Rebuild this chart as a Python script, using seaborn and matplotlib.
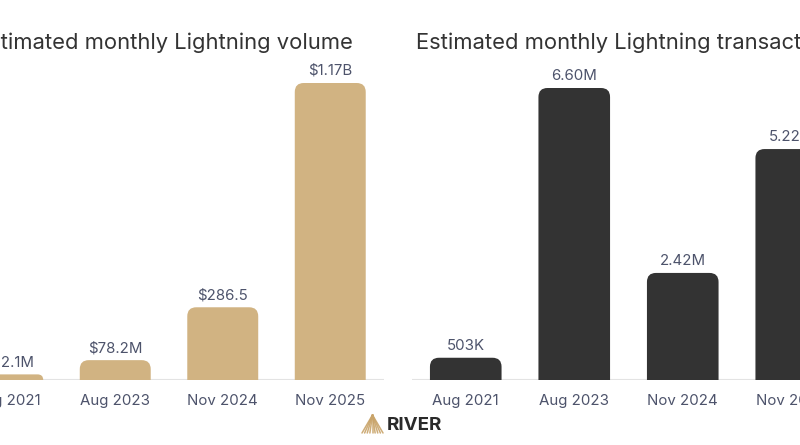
import matplotlib
matplotlib.use("Agg")
import matplotlib.pyplot as plt
from matplotlib.patches import FancyBboxPatch
import seaborn as sns
import pandas as pd

sns.set_theme(style="white")
plt.rcParams['font.family'] = ['Inter', 'DejaVu Sans']

# data
periods = ["Aug 2021", "Aug 2023", "Nov 2024", "Nov 2025"]
volume_busd = [0.0221, 0.0782, 0.2865, 1.17]
volume_labels = ["$22.1M", "$78.2M", "$286.5", "$1.17B"]
tx_millions = [0.503, 6.60, 2.42, 5.22]
tx_labels = ["503K", "6.60M", "2.42M", "5.22M"]

GOLD = "#d1b382"
DARK = "#333333"
LABEL = "#4d536b"

W, H = 800, 445
fig = plt.figure(figsize=(8, 4.45), dpi=100)

# axes deliberately spill past the figure edges (the reference is a crop)
ax1 = fig.add_axes([-46 / W, 65 / H, 430 / W, 320 / H])
ax2 = fig.add_axes([411.5 / W, 65 / H, 434 / W, 320 / H])

df1 = pd.DataFrame({"period": periods, "value": volume_busd})
df2 = pd.DataFrame({"period": periods, "value": tx_millions})


def rounded_bars(ax, df, color, labels, ymax, wpx):
    sns.barplot(data=df, x="period", y="value", color=color, width=0.66,
                saturation=1, ax=ax)
    ax.set_xlim(-0.5, 3.5)
    ax.set_ylim(0, ymax)
    # data units per pixel
    x_pp = 4.0 / wpx
    y_pp = ymax / 320
    r_px = 9
    old = list(ax.patches)
    for p, lab in zip(old, labels):
        x, w, h = p.get_x(), p.get_width(), p.get_height()
        p.remove()
        r = min(r_px, h / y_pp) * x_pp
        fb = FancyBboxPatch((x, -h), w, 2 * h,
                            boxstyle=f"round,pad=0,rounding_size={r}",
                            mutation_aspect=y_pp / x_pp,
                            fc=color, ec="none", zorder=2)
        ax.add_patch(fb)
        ax.text(x + w / 2, h + 5 * y_pp, lab, ha="center", va="bottom",
                fontsize=10.8, color=LABEL)
    ax.axhline(0, color="#e3e3e3", lw=1.5, zorder=1)
    ax.set_xlabel("")
    ax.set_ylabel("")
    ax.set_yticks([])
    ax.tick_params(axis="x", length=0, labelsize=10.8, labelcolor=LABEL, pad=10)
    for s in ax.spines.values():
        s.set_visible(False)
    ax.patch.set_alpha(0)


rounded_bars(ax1, df1, GOLD, volume_labels, 1.17 * 320 / 297, 430)
rounded_bars(ax2, df2, DARK, tx_labels, 6.60 * 320 / 292, 434)

fig.text(164.5 / W, 1 - 43 / H, "Estimated monthly Lightning volume",
         ha="center", va="center", fontsize=15.8, color="#333333")
fig.text(630.5 / W, 1 - 43 / H, "Estimated monthly Lightning transactions",
         ha="center", va="center", fontsize=15.8, color="#333333")

# RIVER logo
lx0, lx1, ly0, ly1 = 362, 383, 433, 415
apex = ((lx0 + lx1) / 2 / W, 1 - ly1 / H)
for i in range(9):
    bx = (lx0 + (lx1 - lx0) * i / 8) / W
    fig.add_artist(plt.Line2D([apex[0], bx], [apex[1], 1 - ly0 / H],
                              color="#c9a46a", lw=1.1, alpha=0.9))
fig.text(387 / W, 1 - 425 / H, "RIVER", ha="left", va="center",
         fontsize=13.5, fontweight="bold", color="#2a2a2a")

fig.savefig("out.png", dpi=100)
